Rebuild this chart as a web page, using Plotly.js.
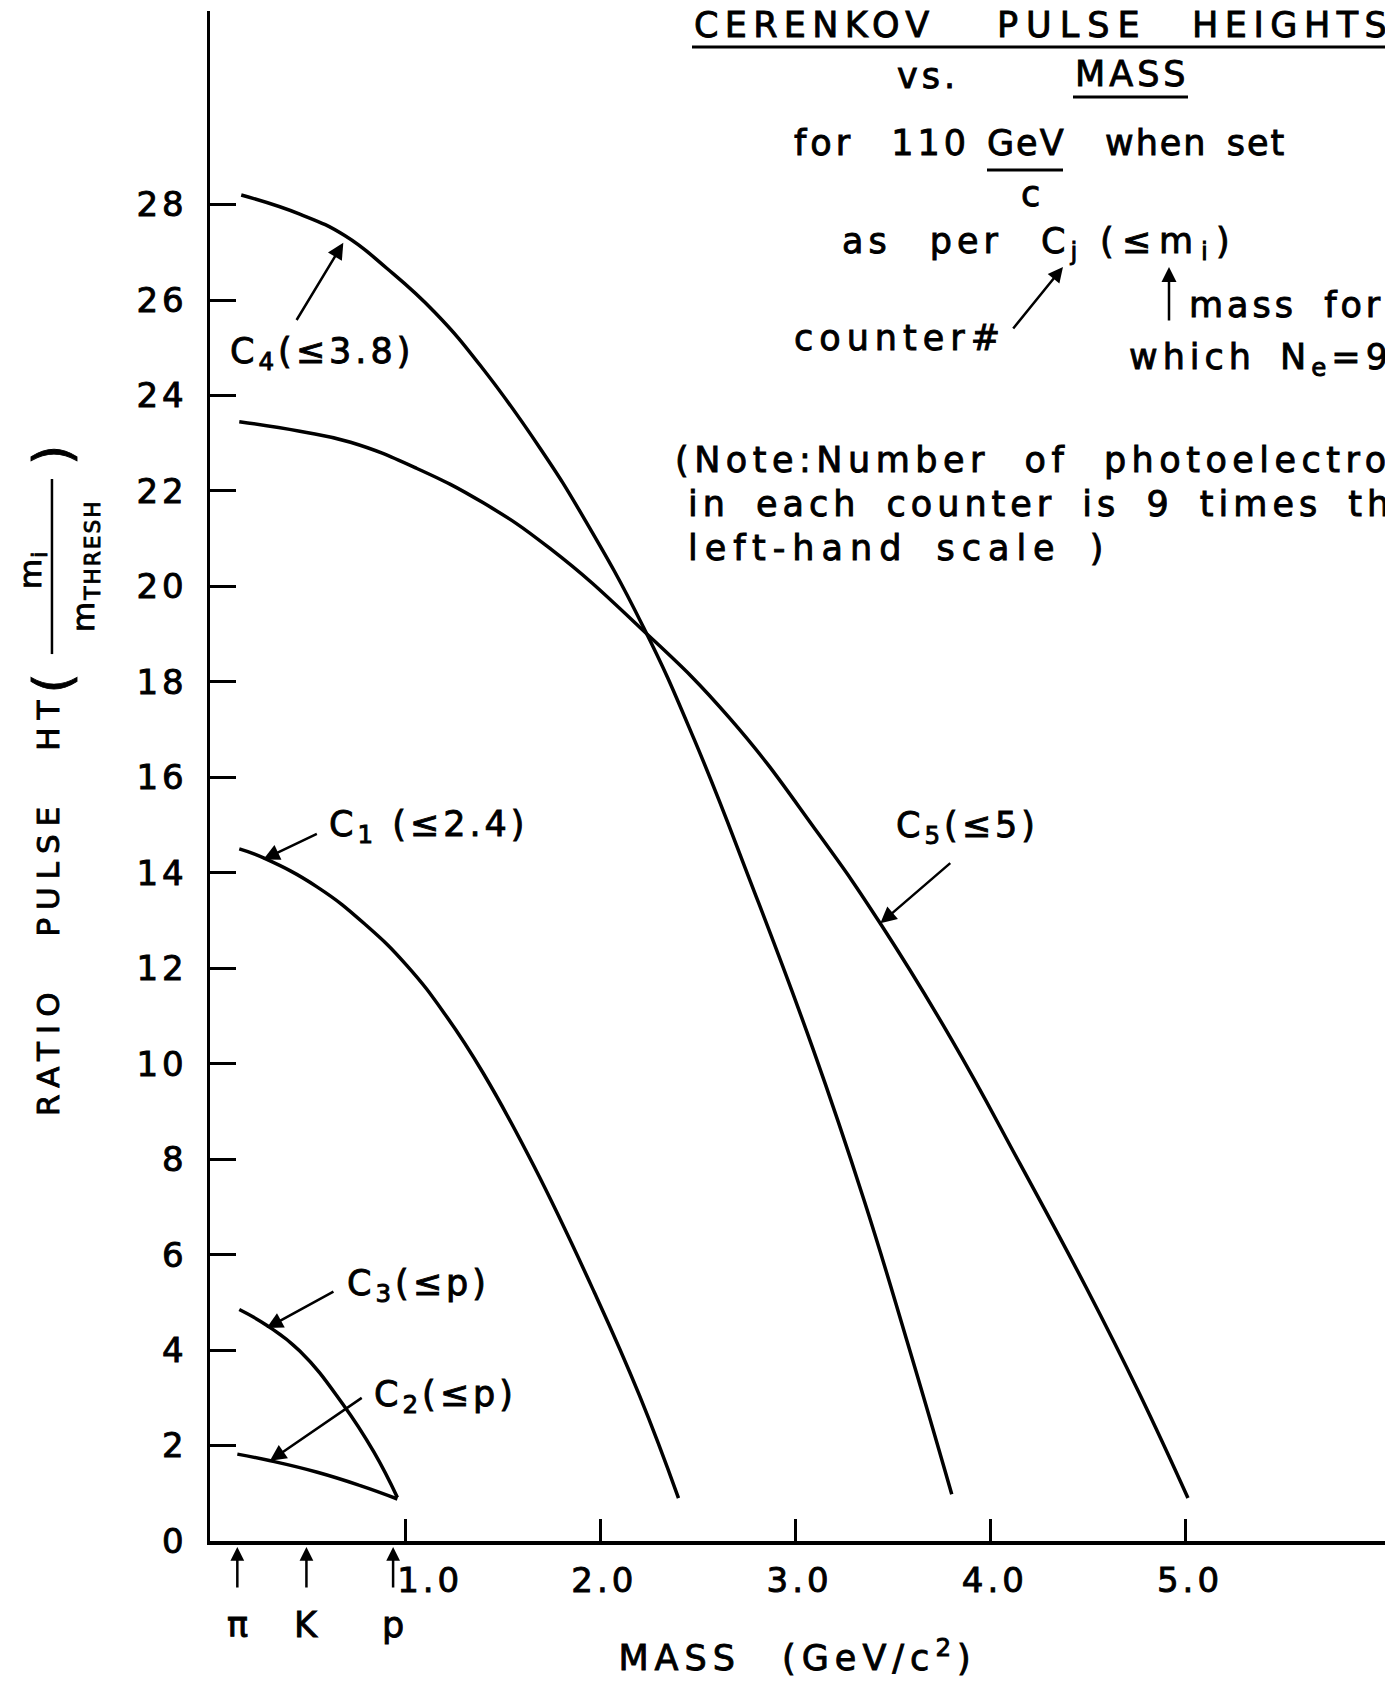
<!DOCTYPE html>
<html><head><meta charset="utf-8">
<script src="https://cdn.plot.ly/plotly-3.0.1.min.js"></script>
<style>
html,body{margin:0;padding:0;background:#fff;}
#chart{width:1385px;height:1681px;}
.annotation-text{letter-spacing:5px;word-spacing:18px;stroke:#000;stroke-width:0.9px;}
.xtick text,.ytick text{letter-spacing:4px;stroke:#000;stroke-width:0.9px;}
.g-xtitle text{letter-spacing:6px;word-spacing:24px;stroke:#000;stroke-width:0.9px;}
</style></head><body><div id="chart"></div>
<script>
// Curves: MASS (GeV/c^2) vs ratio pulse height
const c1_x = [0.15, 0.28, 0.55, 0.80, 1.01, 1.21, 1.40, 1.66, 1.97, 2.20, 2.40];
const c1_y = [14.5, 14.3, 13.7, 12.9, 12.05, 11.0, 9.8, 7.85, 5.2, 3.05, 0.9];
const c2_x = [0.14, 0.31, 0.55, 0.77, 0.96];
const c2_y = [1.82, 1.68, 1.44, 1.16, 0.88];
const c3_x = [0.15, 0.29, 0.46, 0.68, 0.84, 0.96];
const c3_y = [4.85, 4.52, 3.98, 2.87, 1.86, 0.91];
const c4_x = [0.16, 0.46, 0.69, 0.91, 1.15, 1.40, 1.69, 1.92, 2.22, 2.48, 2.77, 3.09, 3.35, 3.57, 3.80];
const c4_y = [28.2, 27.8, 27.35, 26.65, 25.75, 24.55, 22.9, 21.4, 19.15, 16.8, 13.8, 10.3, 7.15, 4.2, 0.98];
const c5_x = [0.15, 0.46, 0.72, 1.06, 1.40, 1.74, 2.20, 2.66, 3.12, 3.44, 3.80, 4.15, 4.49, 4.76, 5.01];
const c5_y = [23.45, 23.25, 23.02, 22.47, 21.75, 20.8, 19.15, 17.25, 14.8, 12.9, 10.5, 7.9, 5.3, 3.1, 0.9];

const curveLabels = ['C<sub>1</sub> (≤2.4)', 'C<sub>2</sub>(≤p)', 'C<sub>3</sub>(≤p)', 'C<sub>4</sub>(≤3.8)', 'C<sub>5</sub>(≤5)'];
const labelPos = [[0.598, 14.97], [0.828, 3.02], [0.692, 5.36], [0.092, 24.87], [3.503, 14.94]];
const arrowTail = [[0.555, 14.83], [0.785, 3.02], [0.640, 5.24], [0.439, 25.55], [3.800, 14.23]];
const arrowTip = [[0.273, 14.28], [0.307, 1.68], [0.290, 4.46], [0.683, 27.20], [3.434, 12.94]];

const particles = ['π', 'K', 'p'];
const particleMass = [0.140, 0.494, 0.938];

const xTickVals = [1, 2, 3, 4, 5];
const xTickText = ['\u2002\u20021.0', '2.0', '3.0', '4.0', '5.0'];
const yTickVals = [0, 2, 4, 6, 8, 10, 12, 14, 16, 18, 20, 22, 24, 26, 28];
const yTickText = ['0', '2', '4', '6', '8', '10', '12', '14', '16', '18', '20', '22', '24', '26', '28'];

const FONT = 'DejaVu Sans, Liberation Sans, sans-serif';
const line = {color: '#000', width: 3.5, shape: 'spline', smoothing: 1.3};
const series = [[c1_x, c1_y], [c2_x, c2_y], [c3_x, c3_y], [c4_x, c4_y], [c5_x, c5_y]];
const traces = series.map(s => ({x: s[0], y: s[1], mode: 'lines', line: line, hoverinfo: 'skip', showlegend: false}));

function sp(t, ls, ws) { return '<span style="letter-spacing:' + ls + 'px;word-spacing:' + ws + 'px">' + t + '</span>'; }

const ann = [];
curveLabels.forEach((t, i) => {
  ann.push({text: sp(t, 4, 0), x: labelPos[i][0], y: labelPos[i][1], xref: 'x', yref: 'y', xanchor: 'left', yanchor: 'middle',
    showarrow: false, font: {family: FONT, size: 35, color: '#000'}});
  ann.push({text: '', x: arrowTip[i][0], y: arrowTip[i][1], ax: arrowTail[i][0], ay: arrowTail[i][1],
    xref: 'x', yref: 'y', axref: 'x', ayref: 'y', showarrow: true, arrowhead: 2, arrowsize: 1.3, arrowwidth: 2.5, arrowcolor: '#000'});
});
particles.forEach((p, i) => {
  ann.push({text: '', x: particleMass[i], y: -0.004, xref: 'x', yref: 'paper', ax: 0, ay: 42, axref: 'pixel', ayref: 'pixel',
    showarrow: true, arrowhead: 2, arrowsize: 1.1, arrowwidth: 2.5, arrowcolor: '#000'});
  ann.push({text: sp(p, 0, 0), x: particleMass[i], y: -0.0549, xref: 'x', yref: 'paper', xanchor: 'center', yanchor: 'middle',
    showarrow: false, font: {family: FONT, size: 35, color: '#000'}});
});
function ptxt(t, x, y, size, xa) {
  ann.push({text: t, x: x, y: y, xref: 'paper', yref: 'paper', xanchor: xa || 'left', yanchor: 'middle',
    showarrow: false, font: {family: FONT, size: size || 35, color: '#000'}});
}
const px = v => (v - 210) / 1175;
const py = v => (1541 - v) / 1530;
ptxt(sp('CERENKOV', 6.3, 0), px(692), py(25));
ptxt(sp('PULSE', 8, 0), px(995), py(25));
ptxt(sp('HEIGHTS', 6.5, 0), px(1190), py(25));
ptxt(sp('vs.', 4, 0), px(895), py(76));
ptxt(sp('MASS', 4, 0), px(1073), py(74));
ptxt(sp('for 110', 4, 22), px(792), py(143));
ptxt(sp('GeV', 2, 0), px(985), py(143));
ptxt(sp('when set', 2, 6), px(1103), py(143));
ptxt(sp('c', 0, 0), px(1030), py(194), 35, 'center');
ptxt(sp('as per C<sub>j</sub>', 5, 22), px(840), py(243));
ptxt(sp('(≤m<sub>i</sub>)', 8, 0), px(1098), py(243));
ptxt(sp('counter#', 6, 0), px(792), py(338));
ptxt(sp('mass for', 4, 12), px(1187), py(305));
ptxt(sp('which N<sub>e</sub>=9', 5, 8), px(1127), py(360));
ptxt(sp('(Note:Number of photoelectrons', 5.5, 18), px(673), py(460));
ptxt(sp('in each counter is 9 times the', 5, 10), px(686), py(504));
ptxt(sp('left-hand scale )', 7, 10), px(686), py(548));
ann.push({text: '', x: px(1063), y: py(267), xref: 'paper', yref: 'paper', ax: -51, ay: 63, showarrow: true,
  arrowhead: 2, arrowsize: 1.2, arrowwidth: 2.5, arrowcolor: '#000'});
ann.push({text: '', x: px(1169), y: py(267), xref: 'paper', yref: 'paper', ax: 0, ay: 55, showarrow: true,
  arrowhead: 2, arrowsize: 1.2, arrowwidth: 2.5, arrowcolor: '#000'});
// y-axis title pieces
function rtxt(t, x, y, size) {
  ann.push({text: t, x: x, y: y, xref: 'paper', yref: 'paper', xanchor: 'center', yanchor: 'middle', textangle: -90,
    showarrow: false, font: {family: FONT, size: size, color: '#000'}});
}
rtxt(sp('RATIO PULSE HT', 8, 30), px(48), py(905), 31);
rtxt(sp('(', 0, 0), -0.1345, 0.5605, 52);
rtxt(sp(')', 0, 0), -0.1345, 0.7098, 52);
rtxt(sp('m<sub>i</sub>', 1, 0), -0.1515, 0.6346, 31);
rtxt(sp('m<sub>THRESH</sub>', 2, 0), -0.1064, 0.6379, 31);

const shapes = [
  {type: 'line', xref: 'paper', yref: 'paper', x0: px(692), x1: 1.0, y0: py(47), y1: py(47), line: {color: '#000', width: 3}},
  {type: 'line', xref: 'paper', yref: 'paper', x0: px(1073), x1: px(1188), y0: py(97), y1: py(97), line: {color: '#000', width: 3}},
  {type: 'line', xref: 'paper', yref: 'paper', x0: px(987), x1: px(1063), y0: py(170), y1: py(170), line: {color: '#000', width: 3}},
  {type: 'line', xref: 'paper', yref: 'paper', x0: -0.1345, x1: -0.1345, y0: 0.5797, y1: 0.6941, line: {color: '#000', width: 2.5}}
];

const layout = {
  width: 1385, height: 1681,
  margin: {l: 210, r: 0, t: 11, b: 140},
  paper_bgcolor: '#fff', plot_bgcolor: '#fff',
  font: {family: FONT, color: '#000'},
  showlegend: false,
  xaxis: {range: [0, 6.0195], tickvals: xTickVals, ticktext: xTickText, ticks: 'inside', ticklen: 22, tickwidth: 3,
    tickcolor: '#000', showline: true, linewidth: 4, linecolor: '#000', showgrid: false, zeroline: false,
    tickfont: {family: FONT, size: 34, color: '#000'}, ticklabelshift: 4, ticklabelstandoff: 6,
    title: {text: 'MASS (GeV/c<sup>2</sup>)', font: {family: FONT, size: 35, color: '#000'}, standoff: 48}},
  yaxis: {range: [0, 32.055], tickvals: yTickVals, ticktext: yTickText, ticks: 'inside', ticklen: 26, tickwidth: 3,
    tickcolor: '#000', showline: true, linewidth: 3.5, linecolor: '#000', showgrid: false, zeroline: false,
    tickfont: {family: FONT, size: 34, color: '#000'}, ticklabelstandoff: 12},
  annotations: ann,
  shapes: shapes
};
Plotly.newPlot('chart', traces, layout, {staticPlot: true, displayModeBar: false});
</script></body></html>
